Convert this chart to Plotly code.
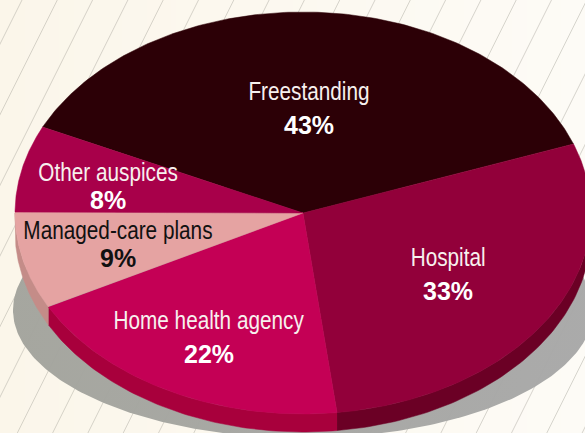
import numpy as np
import plotly.graph_objects as go

categories = ["Freestanding", "Hospital", "Home health agency", "Managed-care plans", "Other auspices"]
values = [43, 33, 22, 9, 8]
face_colors = ["#2C0006", "#92003A", "#C40055", "#E5A3A2", "#A8004A"]
side_colors = ["#2C0006", "#6B0025", "#A8003C", "#C48C88", "#A8004A"]
label_colors = ["#F7F0EE", "#F7F0EE", "#F7F0EE", "#111111", "#F7F0EE"]
label_pos = [(309, 91), (448, 257), (209, 320), (118, 230), (108, 172)]
pct_pos = [(309, 125), (448, 291), (209, 354), (118, 258), (108, 200)]

W, H = 585, 433
CX, CY, RX, RY, DEPTH = 303, 213, 288, 201, 18
START_DEG = 154.7
SH_CX, SH_CY, SH_RX, SH_RY = 303, 310, 290, 128


def ell(t_deg, dy=0):
    t = np.radians(t_deg)
    return CX + RX * np.cos(t), CY - RY * np.sin(t) + dy


fig = go.Figure()

# paper gradient
fig.add_trace(go.Heatmap(x=[0, W], y=[0, H], z=[[0, 1], [0, 1]], zsmooth="best", showscale=False,
                         colorscale=[[0, "#FBF6EA"], [1, "#FDFBF6"]], hoverinfo="skip"))

# hatch
hx, hy = [], []
for k in range(0, 32):
    x0 = 22 + 35.3 * (k - 7)
    hx += [x0, x0 - H / 2, None]
    hy += [0, H, None]
fig.add_trace(go.Scatter(x=hx, y=hy, mode="lines", line=dict(color="#AEADA3", width=0.5), hoverinfo="skip"))

# shadow
ts = np.radians(np.linspace(0, 360, 361))
fig.add_trace(go.Scatter(x=SH_CX + SH_RX * np.cos(ts), y=SH_CY + SH_RY * np.sin(ts), mode="lines", fill="toself",
                         fillgradient=dict(type="horizontal",
                                           colorscale=[[0, "rgba(163,164,157,0.97)"], [1, "rgba(168,168,168,0.97)"]]),
                         line=dict(width=0), hoverinfo="skip"))

# slices
spans = [v / sum(values) * 360 for v in values]
edges = START_DEG - np.cumsum([0] + spans)

for i in range(len(values)):
    a, b = edges[i], edges[i + 1]
    # visible part of the side wall: lower half of the ellipse only (sin<0)
    lo, hi = max(b, -180), min(a, 0)
    if hi > lo:
        t = np.linspace(hi, lo, 80)
        xt, yt = ell(t)
        xb, yb = ell(t[::-1], DEPTH)
        fig.add_trace(go.Scatter(x=np.r_[xt, xb], y=np.r_[yt, yb], mode="lines", fill="toself",
                                 fillcolor=side_colors[i], line=dict(width=0.5, color=side_colors[i]), hoverinfo="skip"))
for i in range(len(values)):
    t = np.linspace(edges[i], edges[i + 1], 160)
    x, y = ell(t)
    fig.add_trace(go.Scatter(x=np.r_[CX, x, CX], y=np.r_[CY, y, CY], mode="lines", fill="toself",
                             fillcolor=face_colors[i], line=dict(width=0.5, color=face_colors[i]),
                             name=categories[i], hoverinfo="skip"))

annotations = []
for i, c in enumerate(categories):
    annotations.append(dict(x=label_pos[i][0], y=label_pos[i][1], text=c, showarrow=False,
                            font=dict(family="Liberation Sans", size=25, color=label_colors[i])))
    annotations.append(dict(x=pct_pos[i][0], y=pct_pos[i][1], text=f"<b>{values[i]}%</b>", showarrow=False,
                            font=dict(family="Liberation Sans", size=25,
                                      color="#FFFFFF" if label_colors[i] != "#111111" else "#111111")))

fig.update_layout(width=W, height=H, margin=dict(l=0, r=0, t=0, b=0), showlegend=False,
                  paper_bgcolor="#FBF6EA", plot_bgcolor="#FBF6EA",
                  xaxis=dict(range=[0, W], visible=False, fixedrange=True),
                  yaxis=dict(range=[H, 0], visible=False, fixedrange=True),
                  annotations=annotations)

# condensed face is not installed: squeeze the category labels horizontally
squeeze_js = """
document.body.style.margin='0';
document.querySelectorAll('.annotation-text').forEach(function(el){
  if (el.textContent.indexOf('%') < 0) {
    el.setAttribute('textLength', el.getComputedTextLength() * 0.83);
    el.setAttribute('lengthAdjust', 'spacingAndGlyphs');
  }
});
"""
fig.write_html("out.html", config=dict(displayModeBar=False), post_script=squeeze_js)
